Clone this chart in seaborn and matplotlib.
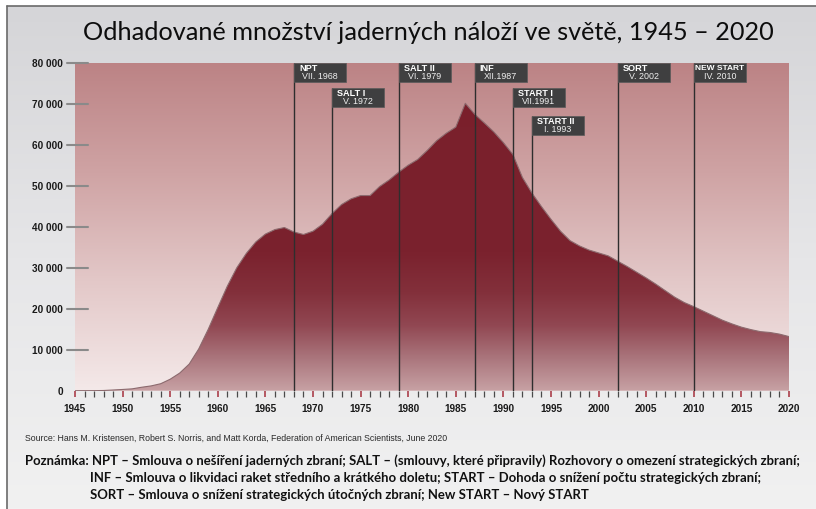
import numpy as np
import pandas as pd
import matplotlib
matplotlib.use("Agg")
import matplotlib.pyplot as plt
import seaborn as sns
from matplotlib.colors import LinearSegmentedColormap
from matplotlib.patches import Rectangle
from matplotlib.lines import Line2D
import matplotlib.transforms as mtransforms

# ---------------- data ----------------
years = list(range(1945, 2021))
warheads = [
    2, 9, 13, 50, 170, 300, 450, 840, 1170, 1700,
    2800, 4300, 6500, 10200, 15000, 20300, 25500, 30000, 33500, 36300,
    38200, 39300, 39800, 38700, 38100, 38900, 40600, 43200, 45400, 46800,
    47600, 47600, 49800, 51400, 53300, 55000, 56400, 58600, 61000, 62800,
    64300, 70100, 67400, 65300, 63100, 60500, 57600, 52000, 48200, 44900,
    41800, 38900, 36600, 35300, 34300, 33600, 32900, 31600, 30300, 28900,
    27500, 26000, 24400, 22800, 21500, 20500, 19400, 18300, 17200, 16300,
    15500, 14900, 14400, 14200, 13800, 13200,
]
treaty_names = ["NPT", "SALT I", "SALT II", "INF", "START I", "START II", "SORT", "NEW START"]
treaty_dates = ["VII. 1968", "V. 1972", "VI. 1979", "XII.1987", "VII.1991", "I. 1993", "V. 2002", "IV. 2010"]
treaty_years = [1968, 1972, 1979, 1987, 1991, 1993, 2002, 2010]
yticks = list(range(0, 80001, 10000))
xticks_major = list(range(1945, 2021, 5))

title = "Odhadované množství jaderných náloží ve světě, 1945 – 2020"
source = "Source: Hans M. Kristensen, Robert S. Norris, and Matt Korda, Federation of American Scientists, June 2020"
note_lines = [
    "Poznámka: NPT – Smlouva o nešíření jaderných zbraní; SALT – (smlouvy, které připravily) Rozhovory o omezení strategických zbraní;",
    "INF – Smlouva o likvidaci raket středního a krátkého doletu; START – Dohoda o snížení počtu strategických zbraní;",
    "SORT – Smlouva o snížení strategických útočných zbraní; New START – Nový START",
]

# layout (not data)
box_rows = [0, 1, 0, 0, 1, 2, 0, 0]

df = pd.DataFrame({"year": years, "warheads": warheads})

# ---------------- figure ----------------
sns.set_style("white")
plt.rcParams["font.family"] = ["Lato", "DejaVu Sans"]
W, H = 816, 509
fig = plt.figure(figsize=(W / 100, H / 100), dpi=100, facecolor="white")

def fx(px):
    return px / W

def fy(py):
    return 1 - py / H

# background gradient
bg = fig.add_axes([fx(7), 0, 1 - fx(7), fy(6)], zorder=-10)
bg_cmap = LinearSegmentedColormap.from_list("bg", ["#f1f1f1", "#e6e6e8", "#d5d5d8"])
bg.imshow(np.linspace(0, 1, 256).reshape(-1, 1), cmap=bg_cmap, origin="lower",
          aspect="auto", extent=[0, 1, 0, 1])
bg.set_axis_off()
fig.add_artist(Line2D([fx(7), fx(7)], [0, fy(6)], transform=fig.transFigure, color="#6a6a6a", lw=1.2))
fig.add_artist(Line2D([fx(7), 1], [fy(6), fy(6)], transform=fig.transFigure, color="#6a6a6a", lw=1.2))

# main axes
L, R, T, B = 75, 789, 62.7, 390.7
ax = fig.add_axes([fx(L), fy(B), fx(R) - fx(L), fy(T) - fy(B)])
ax.set_facecolor("none")
ax.set_xlim(1945, 2020)
ax.set_ylim(0, 80000)

# plot background gradient
pb_cmap = LinearSegmentedColormap.from_list("pb", ["#f4e9e9", "#e3c8c8", "#cfa3a4", "#bc8385"])
ax.imshow(np.linspace(0, 1, 256).reshape(-1, 1), cmap=pb_cmap, origin="lower",
          aspect="auto", extent=[1945, 2020, 0, 80000], zorder=0)

# area with gradient fill
area_cmap = LinearSegmentedColormap.from_list(
    "area", [(0, "#c7a1a4"), (0.1, "#aa757c"), (0.2, "#914752"), (0.3, "#83303b"),
             (0.42, "#7b222e"), (1, "#7a1f2b")])
im = ax.imshow(np.linspace(0, 1, 256).reshape(-1, 1), cmap=area_cmap, origin="lower",
               aspect="auto", extent=[1945, 2020, 0, 80000], zorder=2)
poly = ax.fill_between(df["year"], df["warheads"], 0, facecolor="none", edgecolor="none", zorder=2)
im.set_clip_path(poly.get_paths()[0], transform=ax.transData)
sns.lineplot(data=df, x="year", y="warheads", ax=ax, color="#8c6a6e", lw=0.8, zorder=3)

ax.set_xlim(1945, 2020)
ax.set_ylim(0, 80000)
ax.set_xlabel("")
ax.set_ylabel("")
for s in ax.spines.values():
    s.set_visible(False)

narrow = ["Liberation Sans Narrow", "Liberation Sans", "DejaVu Sans"]

# y ticks
ax.set_yticks(yticks)
ax.set_yticklabels([f"{v:,}".replace(",", " ") for v in yticks])
ax.tick_params(axis="y", length=0, pad=8.6)
for lab in ax.get_yticklabels():
    lab.set_fontfamily(narrow)
    lab.set_fontweight("bold")
    lab.set_fontsize(7.2)
    lab.set_color("#1a1a1a")
blend = mtransforms.blended_transform_factory(ax.transAxes, ax.transData)
aw = R - L
for v in yticks[1:]:
    ax.plot([-8 / aw, 13 / aw], [v, v], transform=blend, color="#8a8a8a", lw=1.5,
            clip_on=False, zorder=5)

# x ticks
ax.set_xticks(xticks_major)
ax.set_xticks(years, minor=True)
ax.set_xticklabels([str(y) for y in xticks_major])
ax.tick_params(axis="x", which="major", direction="out", length=4.3, width=1.1,
               color="#a5303d", pad=5.5, bottom=True)
ax.tick_params(axis="x", which="minor", direction="out", length=4.3, width=0.9,
               color="#4a4a4a", bottom=True)
for lab in ax.get_xticklabels():
    lab.set_fontfamily(narrow)
    lab.set_fontweight("bold")
    lab.set_fontsize(7.2)
    lab.set_color("#1a1a1a")

# treaty markers
px_per_year = aw / 75.0
px_per_unit = (B - T) / 80000.0
box_w = 52 / px_per_year
box_h = 19.5 / px_per_unit
row_tops = [80000, 80000 - 25 / px_per_unit, 80000 - 53 / px_per_unit]
name_texts = []
for name, date, yr, row in zip(treaty_names, treaty_dates, treaty_years, box_rows):
    top = row_tops[row]
    ax.vlines(yr, 0, top, color="#2e2e2e", lw=1.0, zorder=4)
    ax.add_patch(Rectangle((yr, top - box_h), box_w, box_h, facecolor="#3f3f40",
                           edgecolor="#5a5a5a", lw=0.5, zorder=6))
    pad = 1.5 if len(name) > 8 else 5
    t = ax.text(yr + pad / px_per_year, top - 0.28 * box_h, name, color="white",
                fontfamily=narrow, fontweight="bold", fontsize=6.6, ha="left", va="center", zorder=7)
    name_texts.append(t)
    ax.text(yr + box_w / 2, top - 0.72 * box_h, date, color="#f0f0f0",
            fontfamily=narrow, fontsize=6.4, ha="center", va="center", zorder=7)

# texts
t_title = fig.text(fx(428), fy(32), title, ha="center", va="center", fontsize=20,
                   color="#0d0d0d", fontfamily=["Lato", "DejaVu Sans"])
t_src = fig.text(fx(25), fy(438), source, ha="left", va="center", fontsize=6,
                 color="#2a2a2a", fontfamily=["Liberation Sans", "DejaVu Sans"])
t_n1 = fig.text(fx(25), fy(461), note_lines[0], ha="left", va="center", fontsize=10,
                color="#111111", fontweight="bold", fontfamily=["Lato", "DejaVu Sans"])

fig.canvas.draw()
r = fig.canvas.get_renderer()

def fit(t, target):
    bb = t.get_window_extent(r)
    t.set_fontsize(t.get_fontsize() * target / bb.width)

fit(t_title, 693)
fit(t_src, 427)
fit(t_n1, 772)
# keep the widest box label inside its box
nb = name_texts[-1].get_window_extent(r)
if nb.width > 49:
    name_texts[-1].set_fontsize(name_texts[-1].get_fontsize() * 49 / nb.width)
fs = t_n1.get_fontsize()
fig.text(fx(90), fy(478), note_lines[1], ha="left", va="center", fontsize=fs,
         color="#111111", fontweight="bold", fontfamily=["Lato", "DejaVu Sans"])
fig.text(fx(90), fy(495), note_lines[2], ha="left", va="center", fontsize=fs,
         color="#111111", fontweight="bold", fontfamily=["Lato", "DejaVu Sans"])

fig.savefig("out.png", dpi=100, facecolor="white")
